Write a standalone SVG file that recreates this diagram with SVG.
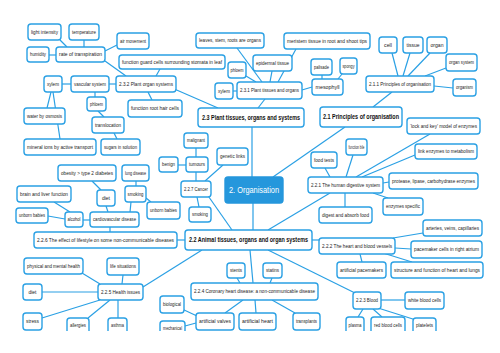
<svg xmlns="http://www.w3.org/2000/svg" width="500" height="353" viewBox="0 0 500 353">
<style>
rect{fill:#fff;stroke:#2aa0e4;stroke-width:1.4;rx:3px;ry:3px}
text{font-family:"Liberation Sans",Arial,sans-serif;font-size:5px;fill:#222;text-anchor:middle}
.b text{font-size:6.6px;font-weight:bold;fill:#111}
#center rect{fill:#2597dc;stroke:#2597dc}
#center text{fill:#fff;font-size:9.5px}
#links line{stroke:#2aa0e4;stroke-width:1.2}
</style>
<defs><clipPath id="c"><rect x="0" y="0" width="500" height="331" style="stroke:none;rx:0"/></clipPath></defs>
<rect x="0" y="0" width="500" height="353" style="stroke:none;rx:0;fill:#fff"/>
<g clip-path="url(#c)">
<g id="links">
<line x1="60" y1="40" x2="67" y2="47"/><line x1="84" y1="40" x2="84" y2="47"/><line x1="117" y1="45" x2="105" y2="51"/><line x1="49" y1="55" x2="56" y2="55"/><line x1="105" y1="61" x2="126" y2="76"/><line x1="160" y1="69" x2="156" y2="76"/><line x1="109" y1="84" x2="116" y2="84"/><line x1="62" y1="84" x2="71" y2="84"/><line x1="95" y1="92" x2="95" y2="97"/><line x1="148" y1="92" x2="152" y2="100"/><line x1="51" y1="92" x2="47" y2="108"/><line x1="53" y1="92" x2="60" y2="139"/><line x1="98" y1="111" x2="104" y2="117"/><line x1="114" y1="133" x2="117" y2="139"/><line x1="172" y1="88" x2="218" y2="108"/>
<line x1="237" y1="48" x2="262" y2="82"/><line x1="296" y1="49" x2="278" y2="82"/><line x1="272" y1="71" x2="270" y2="82"/><line x1="246" y1="76" x2="256" y2="82"/><line x1="233" y1="91" x2="237" y2="91"/><line x1="302" y1="90" x2="312" y2="87"/><line x1="322" y1="75" x2="322" y2="79"/><line x1="342" y1="74" x2="338" y2="79"/><line x1="265" y1="99" x2="258" y2="108"/>
<line x1="392" y1="53" x2="398" y2="76"/><line x1="410" y1="53" x2="403" y2="76"/><line x1="430" y1="53" x2="408" y2="76"/><line x1="446" y1="68" x2="425" y2="76"/><line x1="434" y1="86" x2="453" y2="88"/><line x1="392" y1="92" x2="373" y2="107"/>
<line x1="252" y1="127" x2="252" y2="177"/><line x1="345" y1="127" x2="273" y2="177"/><line x1="253" y1="203" x2="253" y2="230"/><line x1="204" y1="190" x2="232" y2="230"/><line x1="330" y1="193" x2="268" y2="230"/><line x1="312" y1="240" x2="319" y2="240"/><line x1="268" y1="250" x2="355" y2="293"/><line x1="250" y1="250" x2="253" y2="283"/><line x1="202" y1="250" x2="143" y2="287"/><line x1="177" y1="240" x2="185" y2="240"/>
<line x1="196" y1="148" x2="196" y2="157"/><line x1="178" y1="165" x2="186" y2="165"/><line x1="196" y1="172" x2="196" y2="181"/><line x1="223" y1="165" x2="205" y2="181"/><line x1="197" y1="197" x2="199" y2="207"/>
<line x1="92" y1="181" x2="101" y2="190"/><line x1="106" y1="206" x2="108" y2="212"/><line x1="136" y1="181" x2="136" y2="186"/><line x1="131" y1="202" x2="130" y2="212"/><line x1="146" y1="198" x2="151" y2="202"/><line x1="83" y1="220" x2="90" y2="220"/><line x1="54" y1="202" x2="70" y2="212"/><line x1="48" y1="216" x2="65" y2="219"/><line x1="110" y1="227" x2="110" y2="232"/>
<line x1="325" y1="168" x2="330" y2="177"/><line x1="353" y1="155" x2="346" y2="177"/><line x1="430" y1="134" x2="356" y2="177"/><line x1="415" y1="155" x2="362" y2="177"/><line x1="383" y1="183" x2="389" y2="182"/><line x1="373" y1="193" x2="388" y2="198"/><line x1="345" y1="193" x2="345" y2="207"/>
<line x1="393" y1="238" x2="423" y2="233"/><line x1="395" y1="248" x2="411" y2="249"/><line x1="360" y1="254" x2="362" y2="262"/><line x1="383" y1="253" x2="412" y2="262"/>
<line x1="381" y1="300" x2="405" y2="300"/><line x1="363" y1="309" x2="358" y2="317"/><line x1="373" y1="309" x2="382" y2="317"/><line x1="378" y1="308" x2="416" y2="320"/>
<line x1="237" y1="278" x2="240" y2="283"/><line x1="272" y1="278" x2="270" y2="283"/><line x1="243" y1="300" x2="225" y2="313"/><line x1="255" y1="300" x2="256" y2="313"/><line x1="272" y1="300" x2="295" y2="313"/><line x1="182" y1="309" x2="197" y2="316"/><line x1="185" y1="326" x2="196" y2="323"/>
<line x1="82" y1="273" x2="100" y2="284"/><line x1="123" y1="275" x2="122" y2="284"/><line x1="42" y1="292" x2="98" y2="292"/><line x1="42" y1="318" x2="100" y2="300"/><line x1="88" y1="318" x2="110" y2="300"/><line x1="118" y1="318" x2="118" y2="300"/>
</g>
<g id="n1"><rect x="28" y="24" width="33" height="16"/><text x="44.5" y="33.7" textLength="27" lengthAdjust="spacingAndGlyphs">light intensity</text></g>
<g id="n2"><rect x="69" y="24" width="30" height="16"/><text x="84" y="33.7" textLength="24" lengthAdjust="spacingAndGlyphs">temperature</text></g>
<g id="n3"><rect x="117" y="33" width="32" height="16"/><text x="133" y="42.7" textLength="26" lengthAdjust="spacingAndGlyphs">air movement</text></g>
<g id="n4"><rect x="27" y="47" width="22" height="15"/><text x="38" y="56.2" textLength="16" lengthAdjust="spacingAndGlyphs">humidity</text></g>
<g id="n5"><rect x="56" y="47" width="49" height="15"/><text x="80.5" y="56.2" textLength="43" lengthAdjust="spacingAndGlyphs">rate of transpiration</text></g>
<g id="n6"><rect x="119" y="55" width="106" height="14"/><text x="172" y="63.7" textLength="100" lengthAdjust="spacingAndGlyphs">function guard cells surrounding stomata in leaf</text></g>
<g id="n7"><rect x="116" y="76" width="60" height="16"/><text x="146" y="85.7" textLength="54" lengthAdjust="spacingAndGlyphs">2.3.2 Plant organ systems</text></g>
<g id="n8"><rect x="44" y="76" width="18" height="16"/><text x="53" y="85.7" textLength="12" lengthAdjust="spacingAndGlyphs">xylem</text></g>
<g id="n9"><rect x="71" y="76" width="38" height="16"/><text x="90" y="85.7" textLength="32" lengthAdjust="spacingAndGlyphs">vascular system</text></g>
<g id="n10"><rect x="87" y="97" width="19" height="14"/><text x="96.5" y="105.7" textLength="13" lengthAdjust="spacingAndGlyphs">phloem</text></g>
<g id="n11"><rect x="128" y="100" width="54" height="17"/><text x="155" y="110.2" textLength="48" lengthAdjust="spacingAndGlyphs">function root hair cells</text></g>
<g id="n12"><rect x="24" y="108" width="41" height="16"/><text x="44.5" y="117.7" textLength="35" lengthAdjust="spacingAndGlyphs">water by osmosis</text></g>
<g id="n13"><rect x="92" y="117" width="32" height="16"/><text x="108" y="126.7" textLength="26" lengthAdjust="spacingAndGlyphs">translocation</text></g>
<g id="n14"><rect x="24" y="139" width="72" height="16"/><text x="60" y="148.7" textLength="66" lengthAdjust="spacingAndGlyphs">mineral ions by active transport</text></g>
<g id="n15"><rect x="101" y="139" width="39" height="16"/><text x="120.5" y="148.7" textLength="33" lengthAdjust="spacingAndGlyphs">sugars in solution</text></g>
<g id="n16"><rect x="196" y="33" width="68" height="15"/><text x="230" y="42.2" textLength="62" lengthAdjust="spacingAndGlyphs">leaves, stem, roots are organs</text></g>
<g id="n17"><rect x="284" y="33" width="86" height="16"/><text x="327" y="42.7" textLength="80" lengthAdjust="spacingAndGlyphs">meristem tissue in root and shoot tips</text></g>
<g id="n18"><rect x="253" y="55" width="39" height="16"/><text x="272.5" y="64.7" textLength="33" lengthAdjust="spacingAndGlyphs">epidermal tissue</text></g>
<g id="n19"><rect x="228" y="62" width="18" height="16"/><text x="237" y="71.7" textLength="13" lengthAdjust="spacingAndGlyphs">phloem</text></g>
<g id="n20"><rect x="215" y="83" width="18" height="16"/><text x="224" y="92.7" textLength="12" lengthAdjust="spacingAndGlyphs">xylem</text></g>
<g id="n21"><rect x="237" y="82" width="65" height="17"/><text x="269.5" y="92.2" textLength="59" lengthAdjust="spacingAndGlyphs">2.3.1 Plant tissues and organs</text></g>
<g id="n22"><rect x="311" y="59" width="21" height="16"/><text x="321.5" y="68.7" textLength="15" lengthAdjust="spacingAndGlyphs">palisade</text></g>
<g id="n23"><rect x="340" y="58" width="17" height="16"/><text x="348.5" y="67.7" textLength="12" lengthAdjust="spacingAndGlyphs">spongy</text></g>
<g id="n24"><rect x="312" y="79" width="31" height="16"/><text x="327.5" y="88.7" textLength="24" lengthAdjust="spacingAndGlyphs">mesophyll</text></g>
<g id="n25"><rect x="379" y="37" width="18" height="16"/><text x="388" y="46.7" textLength="8" lengthAdjust="spacingAndGlyphs">cell</text></g>
<g id="n26"><rect x="403" y="37" width="20" height="16"/><text x="413" y="46.7" textLength="13" lengthAdjust="spacingAndGlyphs">tissue</text></g>
<g id="n27"><rect x="427" y="37" width="20" height="16"/><text x="437" y="46.7" textLength="13" lengthAdjust="spacingAndGlyphs">organ</text></g>
<g id="n28"><rect x="446" y="54" width="31" height="17"/><text x="461.5" y="64.2" textLength="25" lengthAdjust="spacingAndGlyphs">organ system</text></g>
<g id="n29"><rect x="366" y="76" width="68" height="16"/><text x="400" y="85.7" textLength="62" lengthAdjust="spacingAndGlyphs">2.1.1 Principles of organisation</text></g>
<g id="n30"><rect x="453" y="79" width="23" height="17"/><text x="464.5" y="89.2" textLength="17" lengthAdjust="spacingAndGlyphs">organism</text></g>
<g id="n31" class="b"><rect x="198" y="108" width="106" height="19"/><text x="251" y="119.9" textLength="98" lengthAdjust="spacingAndGlyphs">2.3 Plant tissues, organs and systems</text></g>
<g id="n32" class="b"><rect x="320" y="107" width="82" height="20"/><text x="361" y="119.4" textLength="76" lengthAdjust="spacingAndGlyphs">2.1 Principles of organisation</text></g>
<g id="center"><rect x="225" y="177" width="58" height="26"/><text x="254" y="193.4" textLength="50" lengthAdjust="spacingAndGlyphs">2. Organisation</text></g>
<g id="n34" class="b"><rect x="185" y="230" width="127" height="20"/><text x="248.5" y="242.4" textLength="119" lengthAdjust="spacingAndGlyphs">2.2 Animal tissues, organs and organ systems</text></g>
<g id="n35"><rect x="184" y="133" width="24" height="15"/><text x="196" y="142.2" textLength="18" lengthAdjust="spacingAndGlyphs">malignant</text></g>
<g id="n36"><rect x="159" y="157" width="19" height="15"/><text x="168.5" y="166.2" textLength="13" lengthAdjust="spacingAndGlyphs">benign</text></g>
<g id="n37"><rect x="186" y="157" width="22" height="15"/><text x="197" y="166.2" textLength="16" lengthAdjust="spacingAndGlyphs">tumours</text></g>
<g id="n38"><rect x="217" y="148" width="31" height="17"/><text x="232.5" y="158.2" textLength="25" lengthAdjust="spacingAndGlyphs">genetic links</text></g>
<g id="n39"><rect x="181" y="181" width="30" height="16"/><text x="196" y="190.7" textLength="24" lengthAdjust="spacingAndGlyphs">2.2.7 Cancer</text></g>
<g id="n40"><rect x="189" y="207" width="22" height="15"/><text x="200" y="216.2" textLength="16" lengthAdjust="spacingAndGlyphs">smoking</text></g>
<g id="n41"><rect x="58" y="165" width="58" height="16"/><text x="87" y="174.7" textLength="52" lengthAdjust="spacingAndGlyphs">obesity &gt; type 2 diabetes</text></g>
<g id="n42"><rect x="122" y="165" width="27" height="16"/><text x="135.5" y="174.7" textLength="21" lengthAdjust="spacingAndGlyphs">lung disease</text></g>
<g id="n43"><rect x="17" y="186" width="54" height="16"/><text x="44" y="195.7" textLength="48" lengthAdjust="spacingAndGlyphs">brain and liver function</text></g>
<g id="n44"><rect x="97" y="190" width="18" height="16"/><text x="106" y="199.7" textLength="8" lengthAdjust="spacingAndGlyphs">diet</text></g>
<g id="n45"><rect x="125" y="186" width="21" height="16"/><text x="135.5" y="195.7" textLength="16" lengthAdjust="spacingAndGlyphs">smoking</text></g>
<g id="n46"><rect x="16" y="208" width="32" height="15"/><text x="32" y="217.2" textLength="26" lengthAdjust="spacingAndGlyphs">unborn babies</text></g>
<g id="n47"><rect x="65" y="212" width="18" height="15"/><text x="74" y="221.2" textLength="13" lengthAdjust="spacingAndGlyphs">alcohol</text></g>
<g id="n48"><rect x="90" y="212" width="49" height="15"/><text x="114.5" y="221.2" textLength="43" lengthAdjust="spacingAndGlyphs">cardiovascular disease</text></g>
<g id="n49"><rect x="147" y="202" width="33" height="17"/><text x="163.5" y="212.2" textLength="27" lengthAdjust="spacingAndGlyphs">unborn babies</text></g>
<g id="n50"><rect x="34" y="232" width="143" height="16"/><text x="105.5" y="241.7" textLength="137" lengthAdjust="spacingAndGlyphs">2.2.6 The effect of lifestyle on some non-communicable diseases</text></g>
<g id="n51"><rect x="311" y="152" width="26" height="16"/><text x="324" y="161.7" textLength="20" lengthAdjust="spacingAndGlyphs">food tests</text></g>
<g id="n52"><rect x="346" y="139" width="21" height="16"/><text x="356.5" y="148.7" textLength="16" lengthAdjust="spacingAndGlyphs">function bile</text></g>
<g id="n53"><rect x="407" y="118" width="73" height="16"/><text x="443.5" y="127.7" textLength="67" lengthAdjust="spacingAndGlyphs">‘lock and key’ model of enzymes</text></g>
<g id="n54"><rect x="415" y="144" width="62" height="15"/><text x="446" y="153.2" textLength="56" lengthAdjust="spacingAndGlyphs">link enzymes to metabolism</text></g>
<g id="n55"><rect x="308" y="177" width="75" height="16"/><text x="345.5" y="186.7" textLength="69" lengthAdjust="spacingAndGlyphs">2.2.1 The human digestive system</text></g>
<g id="n56"><rect x="389" y="173" width="89" height="16"/><text x="433.5" y="182.7" textLength="83" lengthAdjust="spacingAndGlyphs">protease, lipase, carbohydrase enzymes</text></g>
<g id="n57"><rect x="383" y="198" width="40" height="17"/><text x="403" y="208.2" textLength="34" lengthAdjust="spacingAndGlyphs">enzymes specific</text></g>
<g id="n58"><rect x="319" y="207" width="53" height="16"/><text x="345.5" y="216.7" textLength="47" lengthAdjust="spacingAndGlyphs">digest and absorb food</text></g>
<g id="n59"><rect x="423" y="220" width="59" height="16"/><text x="452.5" y="229.7" textLength="53" lengthAdjust="spacingAndGlyphs">arteries, veins, capillaries</text></g>
<g id="n60"><rect x="319" y="238" width="76" height="16"/><text x="357" y="247.7" textLength="70" lengthAdjust="spacingAndGlyphs">2.2.2 The heart and blood vessels</text></g>
<g id="n61"><rect x="411" y="241" width="71" height="17"/><text x="446.5" y="251.2" textLength="65" lengthAdjust="spacingAndGlyphs">pacemaker cells in right atrium</text></g>
<g id="n62"><rect x="337" y="262" width="49" height="16"/><text x="361.5" y="271.7" textLength="43" lengthAdjust="spacingAndGlyphs">artificial pacemakers</text></g>
<g id="n63"><rect x="391" y="262" width="92" height="16"/><text x="437" y="271.7" textLength="86" lengthAdjust="spacingAndGlyphs">structure and function of heart and lungs</text></g>
<g id="n64"><rect x="353" y="292" width="28" height="17"/><text x="367" y="302.2" textLength="22" lengthAdjust="spacingAndGlyphs">2.2.3 Blood</text></g>
<g id="n65"><rect x="405" y="292" width="39" height="17"/><text x="424.5" y="302.2" textLength="33" lengthAdjust="spacingAndGlyphs">white blood cells</text></g>
<g id="n66"><rect x="346" y="317" width="18" height="18"/><text x="355" y="327" textLength="13" lengthAdjust="spacingAndGlyphs">plasma</text></g>
<g id="n67"><rect x="371" y="317" width="34" height="18"/><text x="388" y="327" textLength="28" lengthAdjust="spacingAndGlyphs">red blood cells</text></g>
<g id="n68"><rect x="413" y="318" width="23" height="17"/><text x="424.5" y="327" textLength="17" lengthAdjust="spacingAndGlyphs">platelets</text></g>
<g id="n69"><rect x="227" y="263" width="18" height="15"/><text x="236" y="272.2" textLength="12" lengthAdjust="spacingAndGlyphs">stents</text></g>
<g id="n70"><rect x="263" y="263" width="19" height="15"/><text x="272.5" y="272.2" textLength="13" lengthAdjust="spacingAndGlyphs">statins</text></g>
<g id="n71"><rect x="191" y="283" width="127" height="17"/><text x="254.5" y="293.2" textLength="121" lengthAdjust="spacingAndGlyphs">2.2.4 Coronary heart disease: a non-communicable disease</text></g>
<g id="n72"><rect x="160" y="296" width="24" height="17"/><text x="172" y="306.2" textLength="18" lengthAdjust="spacingAndGlyphs">biological</text></g>
<g id="n73"><rect x="160" y="321" width="25" height="17"/><text x="172.5" y="330" textLength="19" lengthAdjust="spacingAndGlyphs">mechanical</text></g>
<g id="n74"><rect x="196" y="313" width="38" height="17"/><text x="215" y="323.2" textLength="32" lengthAdjust="spacingAndGlyphs">artificial valves</text></g>
<g id="n75"><rect x="239" y="313" width="37" height="17"/><text x="257.5" y="323.2" textLength="31" lengthAdjust="spacingAndGlyphs">artificial heart</text></g>
<g id="n76"><rect x="293" y="313" width="27" height="17"/><text x="306.5" y="323.2" textLength="21" lengthAdjust="spacingAndGlyphs">transplants</text></g>
<g id="n77"><rect x="24" y="258" width="59" height="16"/><text x="53.5" y="267.7" textLength="53" lengthAdjust="spacingAndGlyphs">physical and mental health</text></g>
<g id="n78"><rect x="107" y="258" width="32" height="17"/><text x="123" y="268.2" textLength="26" lengthAdjust="spacingAndGlyphs">life situations</text></g>
<g id="n79"><rect x="23" y="284" width="19" height="16"/><text x="32.5" y="293.7" textLength="8" lengthAdjust="spacingAndGlyphs">diet</text></g>
<g id="n80"><rect x="98" y="284" width="45" height="16"/><text x="120.5" y="293.7" textLength="39" lengthAdjust="spacingAndGlyphs">2.2.5 Health issues</text></g>
<g id="n81"><rect x="23" y="313" width="19" height="17"/><text x="32.5" y="323.2" textLength="13" lengthAdjust="spacingAndGlyphs">stress</text></g>
<g id="n82"><rect x="67" y="318" width="22" height="17"/><text x="78" y="327" textLength="16" lengthAdjust="spacingAndGlyphs">allergies</text></g>
<g id="n83"><rect x="108" y="318" width="19" height="17"/><text x="117.5" y="327" textLength="13" lengthAdjust="spacingAndGlyphs">asthma</text></g>
</g>
</svg>
